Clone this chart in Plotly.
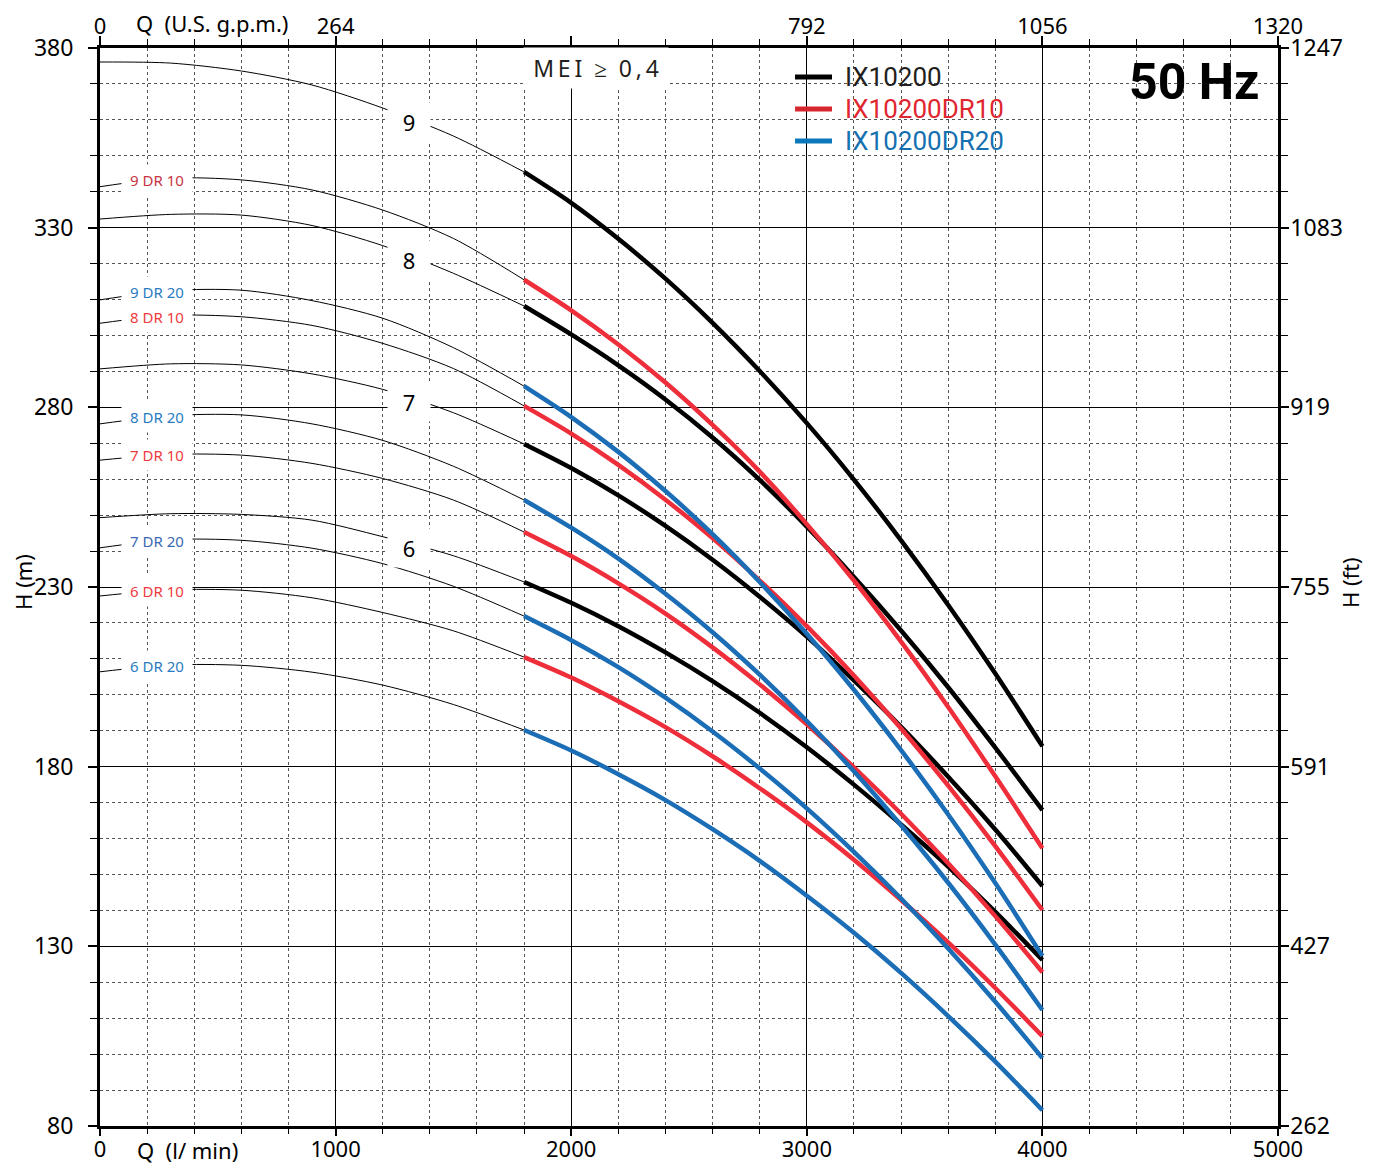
import numpy as np
import plotly.graph_objects as go

# ---------------- data ----------------
Q_THIN = [0, 300, 600, 900, 1200, 1500, 1800]
Q_THICK = [1800, 2000, 2200, 2400, 2600, 2800, 3000, 3200, 3400, 3600, 3800, 4000]

# IX10200 (black)
N9_THIN = [376.1, 375.8, 373.6, 369.7, 363.3, 355.5, 345.5]
N9_THICK = [345.5, 336.9, 326.9, 315.8, 303.5, 290.1, 275.6, 259.9, 243.0, 225.0, 205.9, 185.7]
N8_THIN = [332.4, 333.7, 333.5, 330.6, 325.0, 317.3, 308.2]
N8_THICK = [308.2, 300.3, 291.7, 282.2, 271.6, 259.8, 246.8, 232.8, 217.9, 202.1, 185.3, 167.9]
N7_THIN = [290.7, 292.1, 291.8, 289.3, 285.0, 278.5, 269.8]
N7_THICK = [269.8, 263.1, 255.5, 247.0, 237.6, 227.3, 216.2, 204.0, 191.1, 177.2, 162.5, 146.8]
N6_THIN = [249.3, 250.4, 250.2, 248.6, 244.0, 238.7, 231.4]
N6_THICK = [231.4, 225.6, 219.1, 211.8, 203.8, 195.0, 185.4, 175.0, 163.9, 152.2, 139.6, 126.2]

# IX10200DR10 (red)
R9_THIN = [341.4, 343.8, 343.3, 340.5, 334.9, 327.0, 315.5]
R9_THICK = [315.5, 307.0, 297.5, 286.9, 275.1, 262.1, 247.5, 231.8, 214.8, 196.6, 177.3, 157.3]
R8_THIN = [303.4, 305.6, 305.2, 302.8, 297.8, 290.8, 280.4]
R8_THICK = [280.4, 272.7, 264.0, 254.3, 243.6, 231.8, 219.1, 205.4, 190.6, 174.7, 157.9, 140.1]
R7_THIN = [265.3, 266.9, 266.7, 264.4, 260.2, 254.2, 245.3]
R7_THICK = [245.3, 238.6, 231.0, 222.6, 213.2, 202.9, 191.8, 179.8, 166.9, 153.1, 138.4, 122.8]
R6_THIN = [227.5, 229.2, 229.1, 227.0, 222.9, 217.8, 210.5]
R6_THICK = [210.5, 204.8, 198.2, 191.0, 182.9, 174.0, 164.5, 154.1, 142.9, 131.1, 118.4, 105.0]

# IX10200DR20 (blue)
B9_THIN = [309.9, 312.5, 312.6, 309.7, 304.8, 296.6, 285.9]
B9_THICK = [285.9, 277.3, 267.6, 256.7, 244.7, 231.4, 217.0, 201.4, 184.6, 166.7, 147.6, 127.3]
B8_THIN = [275.4, 277.7, 277.9, 275.4, 270.8, 263.6, 254.2]
B8_THICK = [254.2, 246.5, 237.9, 228.1, 217.4, 205.6, 192.7, 178.7, 163.7, 147.7, 130.5, 112.3]
B7_THIN = [240.9, 243.2, 243.0, 240.8, 236.5, 230.2, 221.9]
B7_THICK = [221.9, 215.2, 207.7, 199.2, 189.8, 179.5, 168.4, 156.3, 143.3, 129.4, 114.6, 98.9]
B6_THIN = [206.4, 208.3, 208.2, 206.3, 202.7, 197.3, 190.2]
B6_THICK = [190.2, 184.5, 177.9, 170.7, 162.6, 153.8, 144.1, 133.8, 122.6, 110.6, 97.9, 84.4]

Q_TICKS = [0, 1000, 2000, 3000, 4000, 5000]
GPM_LABELS = ["0", "264", "", "792", "1056", "1320"]
H_TICKS = [80, 130, 180, 230, 280, 330, 380]
FT_LABELS = ["262", "427", "591", "755", "919", "1083", "1247"]

SERIES = ["IX10200", "IX10200DR10", "IX10200DR20"]
SERIES_COLORS = ["#000000", "#ee2f3b", "#1b6db5"]
LEGEND_LINE_COLORS = ["#000000", "#d8262e", "#0a78ba"]
LEGEND_TEXT_COLORS = ["#231f20", "#e0262f", "#1570b0"]

# (series index, thin, thick, label text, label colour, label kind)
CURVES = [
    (0, N9_THIN, N9_THICK, "9", "#000000", "num"),
    (0, N8_THIN, N8_THICK, "8", "#000000", "num"),
    (0, N7_THIN, N7_THICK, "7", "#000000", "num"),
    (0, N6_THIN, N6_THICK, "6", "#000000", "num"),
    (1, R9_THIN, R9_THICK, "9 DR 10", "#c8343f", "side"),
    (1, R8_THIN, R8_THICK, "8 DR 10", "#ee3b3f", "side"),
    (1, R7_THIN, R7_THICK, "7 DR 10", "#ee3b3f", "side"),
    (1, R6_THIN, R6_THICK, "6 DR 10", "#ee3b3f", "side"),
    (2, B9_THIN, B9_THICK, "9 DR 20", "#2a7bc2", "side"),
    (2, B8_THIN, B8_THICK, "8 DR 20", "#2a7bc2", "side"),
    (2, B7_THIN, B7_THICK, "7 DR 20", "#3b68b2", "side"),
    (2, B6_THIN, B6_THICK, "6 DR 20", "#2a7bc2", "side"),
]

SIDE_LABEL_Q = 250
NUM_LABEL_Q = 1310

TICK_FONT = "Noto Sans"

fig = go.Figure()

for si, thin, thick, lab, lcol, kind in CURVES:
    fig.add_trace(go.Scatter(
        x=Q_THIN, y=thin, mode="lines",
        line=dict(color="#000000", width=1, shape="spline", smoothing=0.8),
        showlegend=False, hoverinfo="skip"))
for si, thin, thick, lab, lcol, kind in CURVES:
    fig.add_trace(go.Scatter(
        x=Q_THICK, y=thick, mode="lines",
        line=dict(color=SERIES_COLORS[si], width=4.5, shape="spline", smoothing=0.8),
        name=SERIES[si], legendgroup=SERIES[si], showlegend=False))

# invisible trace for the secondary (top / right) axes
fig.add_trace(go.Scatter(x=[0, 5000], y=[80, 380], xaxis="x2", yaxis="y2",
                         mode="lines", line=dict(width=0, color="rgba(0,0,0,0)"),
                         showlegend=False, hoverinfo="skip"))

annotations = []
for si, thin, thick, lab, lcol, kind in CURVES:
    if kind == "side":
        hy = float(np.interp(SIDE_LABEL_Q, Q_THIN, thin))
        annotations.append(dict(
            x=SIDE_LABEL_Q, y=hy, xref="x", yref="y", text=lab, showarrow=False,
            xanchor="center", yanchor="middle",
            font=dict(family="Noto Sans", size=15, color=lcol),
            bgcolor="white", width=68, height=28, xshift=-2))
    else:
        hy = float(np.interp(NUM_LABEL_Q, Q_THIN, thin))
        annotations.append(dict(
            x=NUM_LABEL_Q, y=hy, xref="x", yref="y", text=lab, showarrow=False,
            xanchor="center", yanchor="middle",
            font=dict(family="Noto Sans", size=22, color="#000000"),
            bgcolor="white", width=40, height=36, yshift=-4))

# manual legend (sample line + text)
LEG_Y = [0.9731, 0.9434, 0.9137]
shapes = [
    dict(type="rect", xref="paper", yref="paper", x0=0.5645, x1=0.8684,
         y0=0.8887, y1=0.9985, fillcolor="white", line=dict(width=0), layer="between"),
    dict(type="rect", xref="paper", yref="paper", x0=0.8684, x1=0.9985,
         y0=0.9406, y1=0.9985, fillcolor="white", line=dict(width=0), layer="between"),
]
for i, name in enumerate(SERIES):
    shapes.append(dict(type="line", xref="paper", yref="paper", x0=0.590, x1=0.6214,
                       y0=LEG_Y[i], y1=LEG_Y[i],
                       line=dict(color=LEGEND_LINE_COLORS[i], width=5)))
    annotations.append(dict(x=0.6307, y=LEG_Y[i], xref="paper", yref="paper",
                            xanchor="left", yanchor="middle", text=name, showarrow=False,
                            font=dict(family="Roboto", size=26, color=LEGEND_TEXT_COLORS[i])))

TS = "\u2009"
annotations += [
    dict(x=0.4210, y=0.9815, xref="paper", yref="paper",
         text="M" + TS + "E" + TS + "I  ≥  0" + TS + "," + TS + "4",
         xanchor="center", yanchor="middle",
         showarrow=False, font=dict(family="Noto Sans", size=23, color="#231f20"),
         bgcolor="white", width=142, height=38),
    dict(x=0.9293, y=0.968, xref="paper", yref="paper", text="<b>50 Hz</b>",
         xanchor="center", yanchor="middle",
         showarrow=False, font=dict(family="Roboto", size=50, color="#000000")),
    dict(x=-0.0655, y=0.5046, xref="paper", yref="paper", text="H (m)", textangle=-90,
         xanchor="center", yanchor="middle",
         showarrow=False, font=dict(family=TICK_FONT, size=22, color="#000000")),
    dict(x=1.0611, y=0.5046, xref="paper", yref="paper", text="H (ft)", textangle=-90,
         xanchor="center", yanchor="middle",
         showarrow=False, font=dict(family=TICK_FONT, size=22, color="#000000")),
    dict(x=0.0951, y=1.0235, xref="paper", yref="paper", text="Q  (U.S. g.p.m.)",
         xanchor="center", yanchor="middle",
         showarrow=False, font=dict(family=TICK_FONT, size=22, color="#000000")),
    dict(x=0.0747, y=-0.0223, xref="paper", yref="paper", text="Q  (l/ min)",
         xanchor="center", yanchor="middle",
         showarrow=False, font=dict(family=TICK_FONT, size=22, color="#000000")),
]

axis_common = dict(showline=True, linecolor="#000000", zeroline=False, automargin=False,
                   tickcolor="#000000")
TICKFONT = dict(family=TICK_FONT, size=23, color="#000000")

# the page body adds an 8 px offset, so the figure is 8 px smaller and shifted
fig.update_layout(
    width=1373, height=1157,
    margin=dict(l=92, r=103, t=40, b=39, autoexpand=False),
    paper_bgcolor="white", plot_bgcolor="white",
    font=dict(family="Noto Sans", size=20, color="#000000"),
    showlegend=False,
    xaxis=dict(range=[0, 5000], tickmode="linear", tick0=0, dtick=1000,
               ticks="outside", ticklen=7, tickwidth=1.5, linewidth=3,
               showgrid=True, gridcolor="#000000", gridwidth=1, ticklabelstandoff=-5,
               tickfont=dict(family=TICK_FONT, size=22, color="#000000"),
               minor=dict(tickmode="linear", tick0=0, dtick=200, ticks="outside",
                          ticklen=5, tickwidth=1, tickcolor="#000000", showgrid=True,
                          gridcolor="#555555", griddash="dot", gridwidth=1),
               **axis_common),
    xaxis2=dict(range=[0, 5000], overlaying="x", side="top", anchor="y",
                tickmode="array", tickvals=Q_TICKS, ticktext=GPM_LABELS,
                ticks="outside", ticklen=9, tickwidth=1.5, linewidth=2.5,
                showgrid=False, ticklabelstandoff=-7,
                tickfont=dict(family=TICK_FONT, size=22, color="#000000"),
                minor=dict(tickmode="linear", tick0=0, dtick=200, ticks="outside",
                           ticklen=6, tickwidth=1, tickcolor="#000000", showgrid=False),
                **axis_common),
    yaxis=dict(range=[80, 380], tickmode="linear", tick0=80, dtick=50,
               ticks="outside", ticklen=9, tickwidth=1.5, linewidth=3,
               showgrid=True, gridcolor="#000000", gridwidth=1, ticklabelstandoff=10,
               tickfont=TICKFONT,
               minor=dict(tickmode="linear", tick0=80, dtick=10, ticks="outside",
                          ticklen=7, tickwidth=1, tickcolor="#000000", showgrid=True,
                          gridcolor="#555555", griddash="dot", gridwidth=1),
               **axis_common),
    yaxis2=dict(range=[80, 380], overlaying="y", side="right", anchor="x",
                tickmode="array", tickvals=H_TICKS, ticktext=FT_LABELS,
                ticks="outside", ticklen=8, tickwidth=1.5, linewidth=2.5,
                showgrid=False, ticklabelstandoff=-3, tickfont=TICKFONT,
                minor=dict(tickmode="linear", tick0=80, dtick=10, ticks="outside",
                           ticklen=7, tickwidth=1, tickcolor="#000000", showgrid=False),
                **axis_common),
    annotations=annotations,
    shapes=shapes,
)

fig.write_html("out.html")
